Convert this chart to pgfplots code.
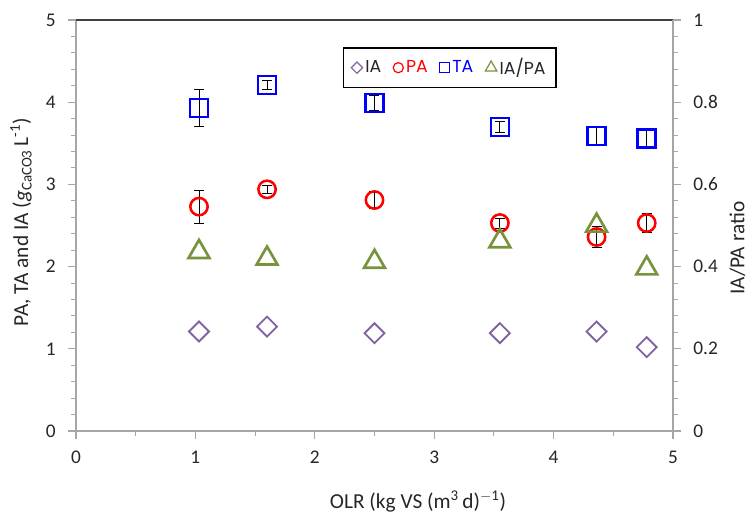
\documentclass[border=0pt]{standalone}
\usepackage{fontspec}
\setmainfont{Carlito}
\newfontfamily\legfont{Poppins}
\usepackage{pgfplots}
\usepackage{pgfplotstable}
\pgfplotsset{compat=1.18}
\definecolor{iapurple}{RGB}{128,100,162}
\definecolor{ratiogreen}{RGB}{119,147,60}
\definecolor{axgray}{RGB}{166,166,166}
\definecolor{txt}{RGB}{38,38,38}

\pgfplotstableread{
x    IA    PA    PAerr  TA    TAerr  ratio
1.03 1.21  2.73  0.20   3.93  0.22   0.443
1.60 1.27  2.94  0.05   4.21  0.05   0.427
2.50 1.19  2.81  0.10   3.99  0.09   0.419
3.55 1.19  2.53  0.06   3.70  0.065  0.469
4.36 1.21  2.36  0.13   3.59  0.10   0.507
4.78 1.02  2.53  0.12   3.56  0.10   0.403
}\data

\pgfplotsset{
  common/.style={
    at={(0,0)}, anchor=south west,
    width=447.75pt, height=308.25pt, scale only axis,
    xmin=0, xmax=5,
    axis line style={draw=axgray, line width=1pt, -},
    tick align=outside, major tick length=5.8pt, minor tick length=3.5pt,
    tick style={draw=axgray, line width=0.8pt},
    ticklabel style={font=\fontsize{14.5}{17}\selectfont, text=txt},
    /pgf/number format/assume math mode=true,
    label style={font=\fontsize{16}{19}\selectfont, text=txt},
    clip=false,
  }
}

\begin{document}
\begin{tikzpicture}
\path[use as bounding box] (-57pt,-65.25pt) rectangle (506.25pt,323.25pt);
\begin{axis}[common,
  ymin=0, ymax=5,
  axis x line*=bottom, axis y line*=left,
  xtick={0,1,2,3,4,5}, ytick={0,1,2,3,4,5},
  xticklabels={0,1,2,3,4,5}, yticklabels={0,1,2,3,4,5},
  xticklabel style={yshift=-6pt},
  yticklabel style={xshift=-6pt},
  minor x tick num=1, minor y tick num=4,
  xlabel={OLR (kg VS (m\textsuperscript{3}\,d)\textsuperscript{$-$1})},
  ylabel={PA, TA and IA (\textit{g}\textsubscript{CaCO3}\,L\textsuperscript{-1})},
  xlabel style={at={(axis description cs:0.573,-0.172)}, anchor=center},
  ylabel style={at={(axis description cs:-0.092,0.508)}, anchor=center},
  legend style={draw=black, line width=1.1pt, at={(axis description cs:0.626,0.934)}, anchor=north,
    font=\legfont\fontsize{13}{15}\selectfont, inner xsep=6pt, inner ysep=6pt},
  legend columns=4,
  /tikz/every even column/.append style={column sep=7pt},
]
\draw[black!75, line width=1pt] (axis cs:0,5) -- (axis cs:5,5);
\addplot[only marks, draw=iapurple, mark=square, mark size=5.3pt,
  mark options={rotate=45, line width=1.4pt, draw=iapurple}, forget plot]
  table[x=x, y=IA]{\data};
\addplot[forget plot, only marks, draw=red, mark=o, mark size=6.5pt,
  mark options={line width=1.9pt, draw=red},
  error bars/.cd, y dir=both, y explicit,
  error bar style={black, line width=0.7pt},
  error mark options={black, line width=0.7pt, mark size=3.75pt, rotate=90}]
  table[x=x, y=PA, y error=PAerr]{\data};
\addplot[forget plot, only marks, draw=blue, mark=square, mark size=6.75pt,
  mark options={line width=2pt, draw=blue},
  error bars/.cd, y dir=both, y explicit,
  error bar style={black, line width=0.7pt},
  error mark options={black, line width=0.7pt, mark size=3.75pt, rotate=90}]
  table[x=x, y=TA, y error=TAerr]{\data};
\addlegendimage{only marks, mark=square, mark size=3pt, mark options={rotate=45, draw=iapurple, line width=0.9pt}}
\addlegendentry{\textcolor{txt}{IA}}
\addlegendimage{only marks, mark=o, mark size=3.8pt, mark options={draw=red, line width=0.9pt}}
\addlegendentry{\textcolor{red}{PA}}
\addlegendimage{only marks, mark=square, mark size=3.7pt, mark options={draw=blue, line width=0.9pt}}
\addlegendentry{\textcolor{blue}{TA}}
\addlegendimage{only marks, mark=triangle, mark size=5pt, mark options={draw=ratiogreen, line width=0.9pt}}
\addlegendentry{\textcolor{txt}{IA/PA}}
\end{axis}
\begin{axis}[common,
  ymin=0, ymax=1,
  axis x line=none, axis y line*=right,
  ytick={0,0.2,0.4,0.6,0.8,1}, yticklabels={0,0.2,0.4,0.6,0.8,1},
  yticklabel style={xshift=6pt},
  minor y tick num=4,
  ylabel={IA/PA ratio},
  ylabel style={at={(axis description cs:1.108,0.445)}, anchor=center},
]
\addplot[only marks, draw=ratiogreen, mark=triangle, mark size=9pt,
  mark options={line width=2pt, draw=ratiogreen, yshift=-2.25pt}]
  table[x=x, y=ratio]{\data};
\end{axis}
\end{tikzpicture}
\end{document}
